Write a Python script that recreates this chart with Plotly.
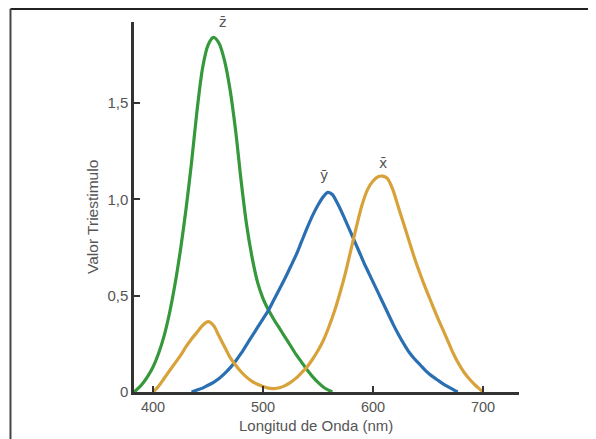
import plotly.graph_objects as go

# Color-matching functions
wl_z = [383, 390, 395, 400, 405, 410, 415, 420, 425, 430, 435, 440, 445, 450, 455, 460, 465, 470, 475, 480,
        485, 490, 495, 500, 505, 510, 515, 520, 525, 530, 535, 540, 545, 550, 555, 560, 563]
z_bar = [0.0, 0.04, 0.08, 0.13, 0.2, 0.29, 0.41, 0.56, 0.74, 0.95, 1.19, 1.46, 1.68, 1.80, 1.84, 1.81, 1.72, 1.57, 1.36, 1.10,
         0.87, 0.70, 0.57, 0.485, 0.425, 0.375, 0.33, 0.285, 0.24, 0.195, 0.155, 0.115, 0.08, 0.05, 0.025, 0.008, 0.0]

wl_y = [435, 440, 445, 450, 455, 460, 465, 470, 475, 480, 485, 490, 495, 500, 505, 510, 515, 520, 525, 530,
        535, 540, 545, 550, 555, 559, 563, 568, 573, 578, 583, 588, 593, 598, 603, 608, 613, 618, 623, 628,
        633, 638, 643, 648, 653, 658, 663, 668, 673, 677]
y_bar = [0.0, 0.01, 0.02, 0.035, 0.05, 0.07, 0.095, 0.125, 0.16, 0.2, 0.245, 0.29, 0.335, 0.38, 0.425, 0.48, 0.535, 0.59, 0.65, 0.71,
         0.78, 0.85, 0.915, 0.97, 1.015, 1.036, 1.025, 0.975, 0.915, 0.85, 0.785, 0.72, 0.655, 0.595, 0.535, 0.475, 0.415, 0.355, 0.30, 0.25,
         0.205, 0.17, 0.14, 0.11, 0.085, 0.065, 0.045, 0.028, 0.012, 0.0]

wl_x = [400, 405, 410, 415, 420, 425, 430, 435, 440, 445, 450, 455, 460, 465, 470, 475, 480, 485, 490, 495,
        500, 505, 510, 515, 520, 525, 530, 535, 540, 545, 550, 555, 560, 565, 570, 575, 580, 585, 590, 595,
        600, 605, 609, 613, 618, 623, 628, 633, 638, 643, 648, 653, 658, 663, 668, 673, 678, 683, 688, 693, 697, 700]
x_bar = [0.0, 0.03, 0.07, 0.11, 0.15, 0.19, 0.235, 0.275, 0.31, 0.345, 0.365, 0.345, 0.29, 0.235, 0.18, 0.14, 0.105, 0.077, 0.055, 0.04,
         0.028, 0.02, 0.018, 0.022, 0.033, 0.05, 0.072, 0.1, 0.13, 0.17, 0.215, 0.27, 0.34, 0.42, 0.515, 0.62, 0.74, 0.86, 0.97, 1.05,
         1.095, 1.118, 1.12, 1.108, 1.05, 0.96, 0.87, 0.78, 0.69, 0.61, 0.535, 0.465, 0.395, 0.33, 0.265, 0.2, 0.145, 0.1, 0.065, 0.035, 0.015, 0.0]

x_ticks = [400, 500, 600, 700]
y_ticks = [0, 0.5, 1.0, 1.5]
y_tick_text = ["0", "0,5", "1,0", "1,5"]

curve_labels = ["z\u0304", "y\u0304", "x\u0304"]
label_pos_x = [463.5, 555, 609]
label_pos_y = [1.92, 1.125, 1.19]

GREEN = "#35983a"
BLUE = "#2b6fb3"
ORANGE = "#d8a23a"
FONT = "Liberation Sans, Arial, sans-serif"

fig = go.Figure()
for wl, vals, col in [(wl_z, z_bar, GREEN), (wl_y, y_bar, BLUE), (wl_x, x_bar, ORANGE)]:
    fig.add_trace(go.Scatter(x=wl, y=vals, mode="lines",
                             line=dict(color=col, width=3.2, shape="spline", smoothing=0.8),
                             hoverinfo="skip", showlegend=False, cliponaxis=False))

for t, xx, yy in zip(curve_labels, label_pos_x, label_pos_y):
    fig.add_annotation(x=xx, y=yy, xref="x", yref="y", text=t, showarrow=False,
                       font=dict(family="DejaVu Sans", size=14, color="#555555"))

fig.add_annotation(x=-0.1065, y=0.473, xref="paper", yref="paper", text="Valor Triestimulo",
                   textangle=-90, showarrow=False, xanchor="center", yanchor="middle",
                   font=dict(family=FONT, size=15.5, color="#555555"))
fig.add_annotation(x=548, y=-0.09, xref="x", yref="paper", text="Longitud de Onda (nm)",
                   showarrow=False, xanchor="center", yanchor="middle",
                   font=dict(family=FONT, size=15, color="#555555"))

# outer frame (top and left edges)
fig.add_shape(type="line", xref="paper", yref="paper", x0=-0.3208, x1=1.25, y0=1.035, y1=1.035,
              line=dict(color="#222222", width=2))
fig.add_shape(type="line", xref="paper", yref="paper", x0=-0.3208, x1=-0.3208, y0=1.036, y1=-0.14,
              line=dict(color="#444444", width=2))

fig.update_layout(
    width=588, height=431,
    margin=dict(l=126, r=77, t=14, b=47),
    paper_bgcolor="white", plot_bgcolor="white",
    font=dict(family=FONT, size=14.5, color="#555555"),
    xaxis=dict(range=[382.7, 732.7], tickvals=x_ticks, ticks="inside", ticklen=6, tickwidth=2,
               tickcolor="#333333", showline=True, linecolor="#333333", linewidth=2.5,
               showgrid=False, zeroline=False, tickfont=dict(size=14.5, color="#555555")),
    yaxis=dict(range=[0, 1.92], tickvals=y_ticks, ticktext=y_tick_text, ticks="inside", ticklen=6,
               tickwidth=2, tickcolor="#333333", showline=True, linecolor="#333333", linewidth=2.5,
               showgrid=False, zeroline=False, tickfont=dict(size=15, color="#555555")),
)

fig.write_html("out.html")
